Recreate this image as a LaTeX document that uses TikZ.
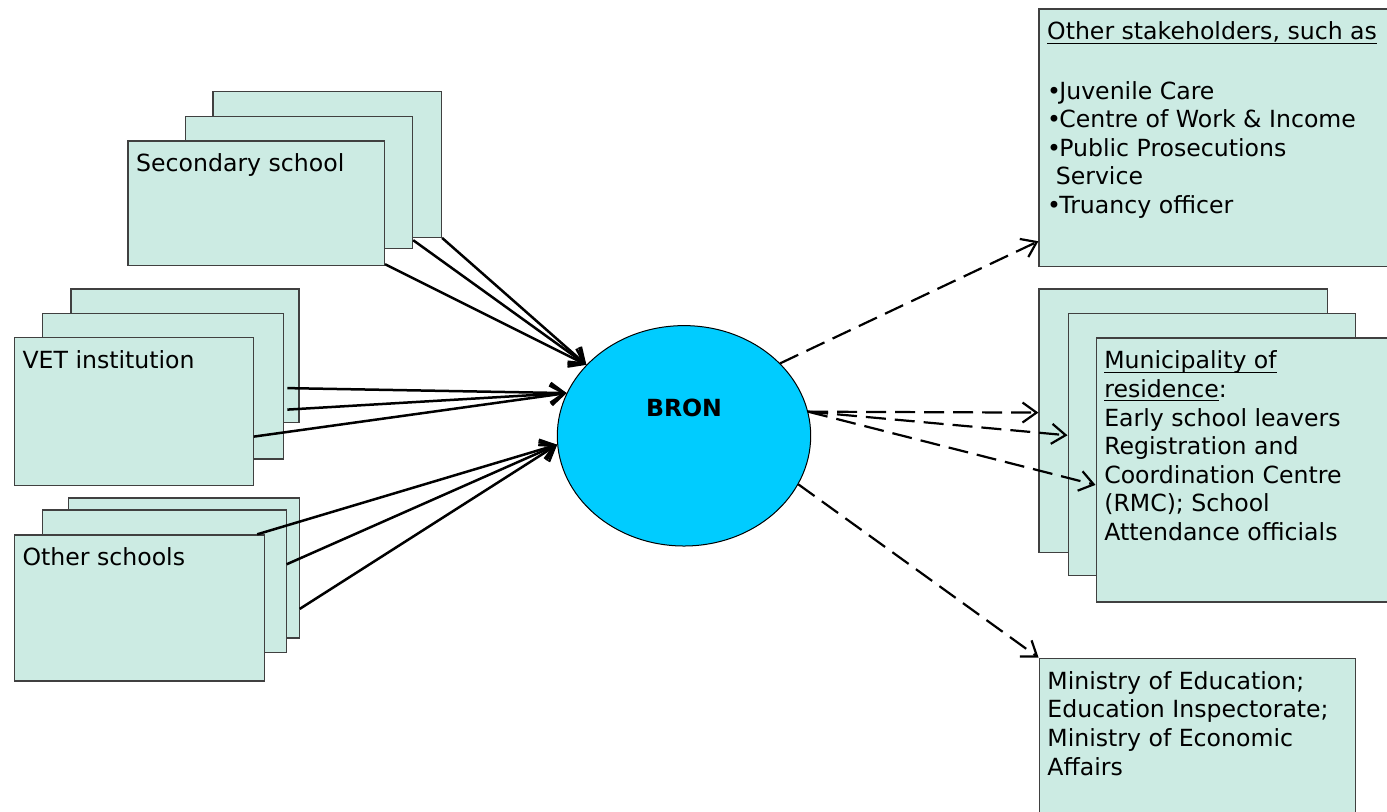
\documentclass[tikz,border=0pt]{standalone}
\usepackage{fontspec}
\setmainfont{DejaVu Sans}
\usetikzlibrary{shapes.geometric, arrows.meta, calc}
\definecolor{mint}{RGB}{204,235,227}
\definecolor{bronblue}{RGB}{0,204,255}
\newcommand{\boxfont}{\fontsize{11.8}{14.3}\selectfont}
\newcommand{\undl}[1]{\setbox0\hbox{#1}\rlap{\rule[-1.9pt]{\wd0}{0.5pt}}\box0}
\newcommand{\bul}{•\kern-0.9pt}

\begin{document}
\begin{tikzpicture}[
  x=0.5pt, y=-0.5pt,
  card/.style={rectangle, draw=black!75, fill=mint, line width=0.6pt, anchor=north west, inner sep=0pt},
  txt/.style={anchor=north west, inner xsep=4.2pt, inner ysep=5.6pt, align=left, font=\boxfont},
  feed/.style={-{Straight Barb[length=7pt,width=10pt]}, line width=1.25pt},
  report/.style={-{Straight Barb[length=7pt,width=10pt]}, line width=1.1pt, dash pattern=on 10pt off 4.5pt}
]
\useasboundingbox (0,0) rectangle (1387,811);
\clip (0,0) rectangle (1387,811);

% Secondary school stack
\node[card, minimum width=114.25pt, minimum height=72.85pt] (ssc) at (212.4,91) {};
\node[card, minimum width=113.75pt, minimum height=66pt] (ssb) at (184.5,115.7) {};
\node[card, minimum width=128.25pt, minimum height=62.35pt] (ssa) at (127.4,140.3) {};
\node[txt] (sslbl) at (ssa.north west) {\strut Secondary school};

% VET institution stack
\node[card, minimum width=114pt, minimum height=66.7pt] (vetc) at (70.4,288.3) {};
\node[card, minimum width=120.5pt, minimum height=72.8pt] (vetb) at (42.1,312.7) {};
\node[card, minimum width=119.4pt, minimum height=74pt] (veta) at (13.8,337) {};
\node[txt] (vetlbl) at (veta.north west) {\strut VET institution};

% Other schools stack
\node[card, minimum width=115.2pt, minimum height=70pt] (othc) at (68.1,497.3) {};
\node[card, minimum width=121.7pt, minimum height=71.35pt] (othb) at (42.1,509.3) {};
\node[card, minimum width=125.1pt, minimum height=73pt] (otha) at (13.8,534.3) {};
\node[txt] (othlbl) at (otha.north west) {\strut Other schools};

% BRON
\node[ellipse, draw=black, fill=bronblue, line width=0.5pt, inner sep=0pt,
      minimum width=126.7pt, minimum height=110.2pt,
      label={[font=\boxfont\bfseries, yshift=13.75pt]center:BRON}] (bron) at (684,435.8) {};

% Other stakeholders
\node[card, minimum width=180.8pt, minimum height=128.85pt] (stake) at (1038.4,8.3) {};
\node[txt] (stakelbl) at (stake.north west) {\strut\undl{Other stakeholders, such as}\\[15.3pt]
  \bul Juvenile Care\\\bul Centre of Work \& Income\\\bul Public Prosecutions\\
  \hspace*{4.3pt}Service\\\bul Truancy officer};

% Municipality stack
\node[card, minimum width=144.25pt, minimum height=131.7pt] (munc) at (1038.4,288.3) {};
\node[card, minimum width=143.85pt, minimum height=131pt] (munb) at (1067.5,312.7) {};
\node[card, minimum width=152.25pt, minimum height=132pt] (muna) at (1095.5,337.3) {};
\node[txt] (munlbl) at (muna.north west) {\strut\undl{Municipality of}\\\undl{residence}:\\
  Early school leavers\\Registration and\\Coordination Centre\\(RMC); School\\Attendance officials};

% Ministries
\node[card, minimum width=158pt, minimum height=86pt] (mini) at (1038.6,657.7) {};
\node[txt] (minilbl) at (mini.north west) {\strut Ministry of Education;\\Education Inspectorate;\\
  Ministry of Economic\\Affairs};

% Arrows into BRON
\draw[feed] (ssc.south east) -- (bron.144);
\draw[feed] ($(ssb.south east)+(0,-8.7)$) -- (bron.144);
\draw[feed] ($(ssa.south east)+(0,-2)$) -- (bron.144);
\draw[feed] ($(vetb.east)+(3,2)$) -- (bron.160);
\draw[feed] ($(vetb.east)+(3,23.5)$) -- (bron.160);
\draw[feed] ($(veta.east)+(0,25)$) -- (bron.160);
\draw[feed] ($(otha.north east)+(-8,0)$) -- (bron.184);
\draw[feed] ($(othb.east)+(0,-17)$) -- (bron.184);
\draw[feed] ($(othc.east)+(0,41)$) -- (bron.184);

% Arrows out of BRON
\draw[report] (bron.37) -- ($(stake.south west)+(0,-26)$);
\draw[report] (bron.11) -- ($(munc.west)+(0,-8)$);
\draw[report] (bron.11) -- ($(munb.west)+(0,-9)$);
\draw[report] (bron.11) -- ($(muna.west)+(0,15)$);
\draw[report] (bron.337) -- (mini.north west);

\end{tikzpicture}
\end{document}
